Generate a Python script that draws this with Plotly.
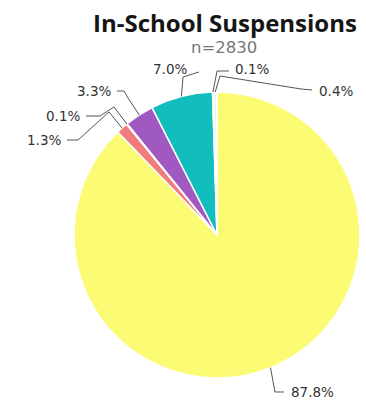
import math
import plotly.graph_objects as go

# Slice values (percent of in-school suspensions), clockwise from 12 o'clock
categories = ["Group A", "Group B", "Group C", "Group D", "Group E", "Group F", "Group G"]
values = [87.8, 1.3, 0.1, 3.3, 7.0, 0.1, 0.4]
labels = ["87.8%", "1.3%", "0.1%", "3.3%", "7.0%", "0.1%", "0.4%"]
colors = ["#FCFC74", "#F07C7C", "#F6C9D2", "#A159C2", "#12BDBE", "#BFDDF2", "#EEF4F8"]

title_text = "In-School Suspensions"
subtitle_text = "n=2830"

W, H = 366, 405
CX, CY, R = 217, 235, 143  # pie centre and radius in pixels


def px(x):
    return x / W


def py(y):
    return 1 - y / H


fig = go.Figure(go.Pie(
    labels=categories,
    values=values,
    sort=False,
    direction="clockwise",
    rotation=0,
    textinfo="none",
    hoverinfo="label+percent",
    marker=dict(colors=colors, line=dict(color="white", width=1.5)),
    domain=dict(x=[px(CX - R), px(CX + R)], y=[py(CY + R), py(CY - R)]),
    showlegend=False,
))

# Label placement: (elbow points after the slice edge, text x, text y, anchor)
placement = [
    ([(275, 392), (284, 392)], 289, 392, "left"),
    ([(109, 112), (78, 140), (67, 140)], 63, 140, "right"),
    ([(114, 107), (100, 116), (86, 116)], 82, 116, "right"),
    ([(128, 98), (124, 91), (117, 91)], 113, 91, "right"),
    ([(183, 77), (199, 72)], 189, 69, "right"),
    ([(217, 71), (229, 71)], 233, 69, "left"),
    ([(220, 76), (301, 89), (312, 90)], 317, 91, "left"),
]

total = sum(values)
cum = 0.0
shapes = []
annotations = []
for v, lab, (pts, tx, ty, anchor) in zip(values, labels, placement):
    mid = math.radians((cum + v / 2) / total * 360)
    cum += v
    ex = CX + R * math.sin(mid)
    ey = CY - R * math.cos(mid)
    path_pts = [(ex, ey)] + pts
    d = "M " + " L ".join(f"{px(x):.5f},{py(y):.5f}" for x, y in path_pts)
    shapes.append(dict(type="path", xref="paper", yref="paper", path=d,
                       line=dict(color="#555555", width=1)))
    annotations.append(dict(x=px(tx), y=py(ty), xref="paper", yref="paper",
                            text=lab, showarrow=False, xanchor=anchor, yanchor="middle",
                            font=dict(family="DejaVu Sans", size=13.5, color="#333333")))

annotations.append(dict(x=px(225), y=py(22), xref="paper", yref="paper", text=f"<b>{title_text}</b>",
                        showarrow=False, xanchor="center", yanchor="middle",
                        font=dict(family="Open Sans", size=24, color="#151515")))
annotations.append(dict(x=px(224), y=py(48), xref="paper", yref="paper", text=subtitle_text,
                        showarrow=False, xanchor="center", yanchor="middle",
                        font=dict(family="DejaVu Sans", size=16.5, color="#777777")))

fig.update_layout(
    width=W, height=H,
    margin=dict(l=0, r=0, t=0, b=0),
    paper_bgcolor="white",
    plot_bgcolor="white",
    shapes=shapes,
    annotations=annotations,
)

fig.write_html("out.html")
